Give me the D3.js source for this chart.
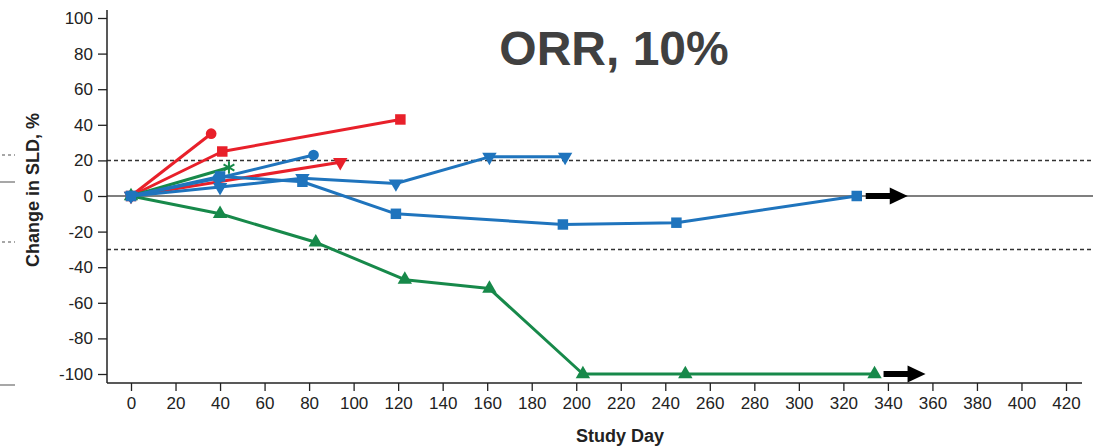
<!DOCTYPE html>
<html>
<head>
<meta charset="utf-8">
<script src="https://cdn.jsdelivr.net/npm/d3@7"></script>
<style>
  html, body { margin: 0; padding: 0; background: #fff; }
  svg { display: block; }
  text { font-family: "Liberation Sans", Arial, sans-serif; }
</style>
</head>
<body>
<svg id="chart" width="1093" height="448"></svg>
<script>
// Tick values for both axes
const xTicks = d3.range(0, 421, 20);
const yTicks = d3.range(-100, 101, 20);

// Per-patient change in sum of longest diameters, [study day, % change]
const redCircle   = [[0, 0], [36, 35]];
const redSquare   = [[0, 0], [41, 25], [121, 43]];
const redTriangle = [[0, 0], [94, 19]];
const greenStar   = [[0, 0], [44, 16]];
const greenTriangle = [[0, 0], [40, -10], [83, -26], [123, -47], [161, -52], [203, -100], [249, -100], [334, -100]];
const blueCircle   = [[0, 0], [39, 10], [82, 23]];
const blueTriangle = [[0, 0], [40, 5], [77, 10], [119, 7], [161, 22], [195, 22]];
const blueSquare   = [[0, 0], [40, 11], [77, 8], [119, -10], [194, -16], [245, -15], [326, 0]];

// Response thresholds (progression / partial response)
const thresholds = [20, -30];

// Ongoing patients, arrow drawn after their last assessment
const ongoing = [[326, 0], [334, -100]];

const RED = "#e8202a", BLUE = "#1f74bd", GREEN = "#17894a";

const series = [
  { data: redCircle, color: RED, shape: "circle" },
  { data: redSquare, color: RED, shape: "square" },
  { data: redTriangle, color: RED, shape: "down" },
  { data: greenStar, color: GREEN, shape: "star" },
  { data: greenTriangle, color: GREEN, shape: "up" },
  { data: blueCircle, color: BLUE, shape: "circle" },
  { data: blueTriangle, color: BLUE, shape: "down" },
  { data: blueSquare, color: BLUE, shape: "square" }
];

const svg = d3.select("#chart");
const x = d3.scaleLinear().domain([0, 420]).range([131, 1066]);
const y = d3.scaleLinear().domain([-100, 100]).range([374, 18]);
const axisX0 = 107, axisY0 = 383;
const fmt = d => String(d); // plain hyphen for negatives

// stray marks at the left edge
const edge = svg.append("g").attr("stroke", "#8a8a8a").attr("stroke-width", 1.5);
edge.append("line").attr("x1", 2).attr("x2", 15).attr("y1", 155).attr("y2", 155).attr("stroke-dasharray", "3,3");
edge.append("line").attr("x1", 0).attr("x2", 15).attr("y1", 182).attr("y2", 182);
edge.append("line").attr("x1", 2).attr("x2", 15).attr("y1", 242).attr("y2", 242).attr("stroke-dasharray", "3,3");
edge.append("line").attr("x1", 0).attr("x2", 15).attr("y1", 385).attr("y2", 385);

// threshold lines
svg.append("g").selectAll("line").data(thresholds).join("line")
  .attr("x1", axisX0).attr("x2", 1093)
  .attr("y1", d => y(d)).attr("y2", d => y(d))
  .attr("stroke", "#333").attr("stroke-width", 1.5).attr("stroke-dasharray", "4,3");

// zero line
svg.append("line").attr("x1", axisX0).attr("x2", 1093)
  .attr("y1", y(0)).attr("y2", y(0))
  .attr("stroke", "#555").attr("stroke-width", 1.5);

const tickFont = "'Liberation Sans', Arial, sans-serif";

// y axis
const yAxis = svg.append("g").attr("transform", `translate(${axisX0},0)`)
  .call(d3.axisLeft(y).tickValues(yTicks).tickFormat(fmt).tickSize(9).tickPadding(5));
yAxis.select(".domain").remove();
yAxis.append("line").attr("x1", 0).attr("x2", 0).attr("y1", 10).attr("y2", axisY0)
  .attr("stroke", "#222").attr("stroke-width", 1.5);
yAxis.selectAll(".tick line").attr("stroke", "#222").attr("stroke-width", 1.3);
yAxis.selectAll(".tick text").attr("font-size", 17).attr("fill", "#222").attr("font-family", tickFont);

// x axis
const xAxis = svg.append("g").attr("transform", `translate(0,${axisY0})`)
  .call(d3.axisBottom(x).tickValues(xTicks).tickFormat(fmt).tickSize(8).tickPadding(6));
xAxis.select(".domain").remove();
xAxis.append("line").attr("x1", axisX0).attr("x2", 1082).attr("y1", 0).attr("y2", 0)
  .attr("stroke", "#222").attr("stroke-width", 1.5);
xAxis.selectAll(".tick line").attr("stroke", "#222").attr("stroke-width", 1.3);
xAxis.selectAll(".tick text").attr("font-size", 17).attr("fill", "#222").attr("font-family", tickFont);

// axis titles
svg.append("text").attr("x", 620).attr("y", 442).attr("text-anchor", "middle")
  .attr("font-size", 18).attr("font-weight", "bold").attr("fill", "#222").text("Study Day");
svg.append("text").attr("transform", "translate(38.5,190) rotate(-90)").attr("text-anchor", "middle")
  .attr("font-size", 18).attr("font-weight", "bold").attr("fill", "#222").text("Change in SLD, %");

// chart title
svg.append("text").attr("x", 614).attr("y", 65).attr("text-anchor", "middle")
  .attr("font-size", 48).attr("font-weight", "bold").attr("fill", "#404040").text("ORR, 10%");

// series lines and markers
const line = d3.line().x(d => x(d[0])).y(d => y(d[1]));
const symbols = {
  circle: d3.symbol(d3.symbolCircle, 90),
  square: d3.symbol(d3.symbolSquare, 110),
  up: d3.symbol(d3.symbolTriangle, 90),
  down: d3.symbol(d3.symbolTriangle, 90),
  star: d3.symbol(d3.symbolAsterisk, 110)
};

series.forEach(s => {
  const g = svg.append("g");
  g.append("path").datum(s.data).attr("d", line)
    .attr("fill", "none").attr("stroke", s.color).attr("stroke-width", 3)
    .attr("stroke-linejoin", "round");
  g.selectAll("path.m").data(s.data).join("path").attr("class", "m")
    .attr("d", symbols[s.shape])
    .attr("transform", d => `translate(${x(d[0])},${y(d[1])})` + (s.shape === "down" ? " rotate(180)" : ""))
    .attr("fill", s.shape === "star" ? "none" : s.color)
    .attr("stroke", s.shape === "star" ? s.color : "none")
    .attr("stroke-width", 2);
});

// continuation arrows
const arrows = svg.append("g");
ongoing.forEach(d => {
  const x0 = x(d[0]) + 9, cy = y(d[1]);
  arrows.append("rect").attr("x", x0).attr("y", cy - 3).attr("width", 26).attr("height", 6).attr("fill", "#000");
  arrows.append("path")
    .attr("d", `M${x0 + 24},${cy - 8.5} L${x0 + 42},${cy} L${x0 + 24},${cy + 8.5} Z`)
    .attr("fill", "#000");
});
</script>
</body>
</html>
